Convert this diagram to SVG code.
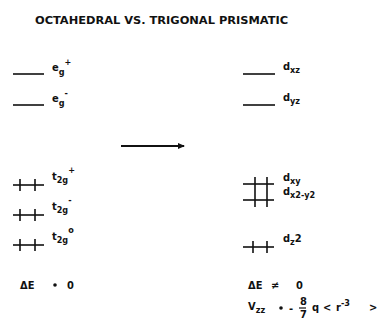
<svg xmlns="http://www.w3.org/2000/svg" width="388" height="329" viewBox="0 0 388 329">
<style>
text{font-family:"DejaVu Sans Condensed","DejaVu Sans",sans-serif;font-weight:bold;fill:#111;font-size:11px}
.lvl{stroke:#111;stroke-width:1.6;fill:none}
.e{stroke:#111;stroke-width:1.6;fill:none}
.sub{font-size:9px}
.sup{font-size:9px}
</style>
<defs>
<marker id="ah" markerWidth="8" markerHeight="8" refX="6" refY="4" orient="auto" markerUnits="userSpaceOnUse">
<path d="M0,1 L7,4 L0,7 Z" fill="#111"/>
</marker>
</defs>
<text x="35" y="24" font-size="12.5" textLength="253" lengthAdjust="spacingAndGlyphs">OCTAHEDRAL VS. TRIGONAL PRISMATIC</text>

<g id="eg-plus"><line class="lvl" x1="13" y1="74" x2="44" y2="74"/><text x="52" y="71">e<tspan class="sub" dy="4">g</tspan><tspan class="sup" dy="-10">+</tspan></text></g>
<g id="eg-minus"><line class="lvl" x1="13" y1="105" x2="44" y2="105"/><text x="52" y="102">e<tspan class="sub" dy="4">g</tspan><tspan class="sup" dy="-10">-</tspan></text></g>
<g id="t2g-plus"><line class="lvl" x1="13" y1="185" x2="44" y2="185"/><line class="e" x1="20" y1="179" x2="20" y2="191"/><line class="e" x1="35" y1="179" x2="35" y2="191"/><text x="52" y="180">t<tspan class="sub" dy="3">2g</tspan><tspan class="sup" dy="-10">+</tspan></text></g>
<g id="t2g-minus"><line class="lvl" x1="13" y1="215" x2="44" y2="215"/><line class="e" x1="20" y1="209" x2="20" y2="221"/><line class="e" x1="35" y1="209" x2="35" y2="221"/><text x="52" y="210">t<tspan class="sub" dy="3">2g</tspan><tspan class="sup" dy="-10">-</tspan></text></g>
<g id="t2g-zero"><line class="lvl" x1="13" y1="245" x2="44" y2="245"/><line class="e" x1="20" y1="239" x2="20" y2="251"/><line class="e" x1="35" y1="239" x2="35" y2="251"/><text x="52" y="240">t<tspan class="sub" dy="3">2g</tspan><tspan class="sup" dy="-10">o</tspan></text></g>
<g id="dE-oct"><text x="20" y="289">ΔE</text><circle cx="55" cy="285" r="1.8" fill="#111"/><text x="67" y="289">0</text></g>

<g id="dxz"><line class="lvl" x1="243" y1="74" x2="275" y2="74"/><text x="283" y="70">d<tspan class="sub" dy="3">xz</tspan></text></g>
<g id="dyz"><line class="lvl" x1="243" y1="105" x2="275" y2="105"/><text x="283" y="101">d<tspan class="sub" dy="3">yz</tspan></text></g>
<g id="dxy-dx2y2"><line class="lvl" x1="243" y1="184" x2="274" y2="184"/><line class="lvl" x1="243" y1="200" x2="274" y2="200"/><line class="e" x1="255" y1="177" x2="255" y2="207"/><line class="e" x1="267" y1="177" x2="267" y2="207"/><text x="283" y="181">d<tspan class="sub" dy="3">xy</tspan></text><text x="283" y="195">d<tspan class="sub" dy="3">x2-y2</tspan></text></g>
<g id="dz2"><line class="lvl" x1="243" y1="247" x2="274" y2="247"/><line class="e" x1="253" y1="241" x2="253" y2="253"/><line class="e" x1="267" y1="241" x2="267" y2="253"/><text x="283" y="242">d<tspan class="sub" dy="3">z</tspan><tspan dy="-3">2</tspan></text></g>
<g id="dE-trig"><text x="248" y="289">ΔE</text><text x="271" y="289">≠</text><text x="296" y="289">0</text></g>
<g id="vzz"><text x="248" y="310">V<tspan class="sub" dy="3">zz</tspan></text><circle cx="281" cy="308" r="1.8" fill="#111"/><text x="289" y="312">-</text><text x="300" y="305" font-size="7.5">8</text><line x1="299" y1="308" x2="306" y2="308" stroke="#111" stroke-width="1.2"/><text x="300" y="318" font-size="7.5">7</text><text x="312" y="311">q</text><text x="323" y="311">&lt;</text><text x="336" y="311">r<tspan class="sup" dy="-5">-3</tspan></text><text x="369" y="311">&gt;</text></g>

<g id="connectors"><line x1="121" y1="146" x2="184" y2="146" stroke="#111" stroke-width="2" marker-end="url(#ah)"/></g>
</svg>
